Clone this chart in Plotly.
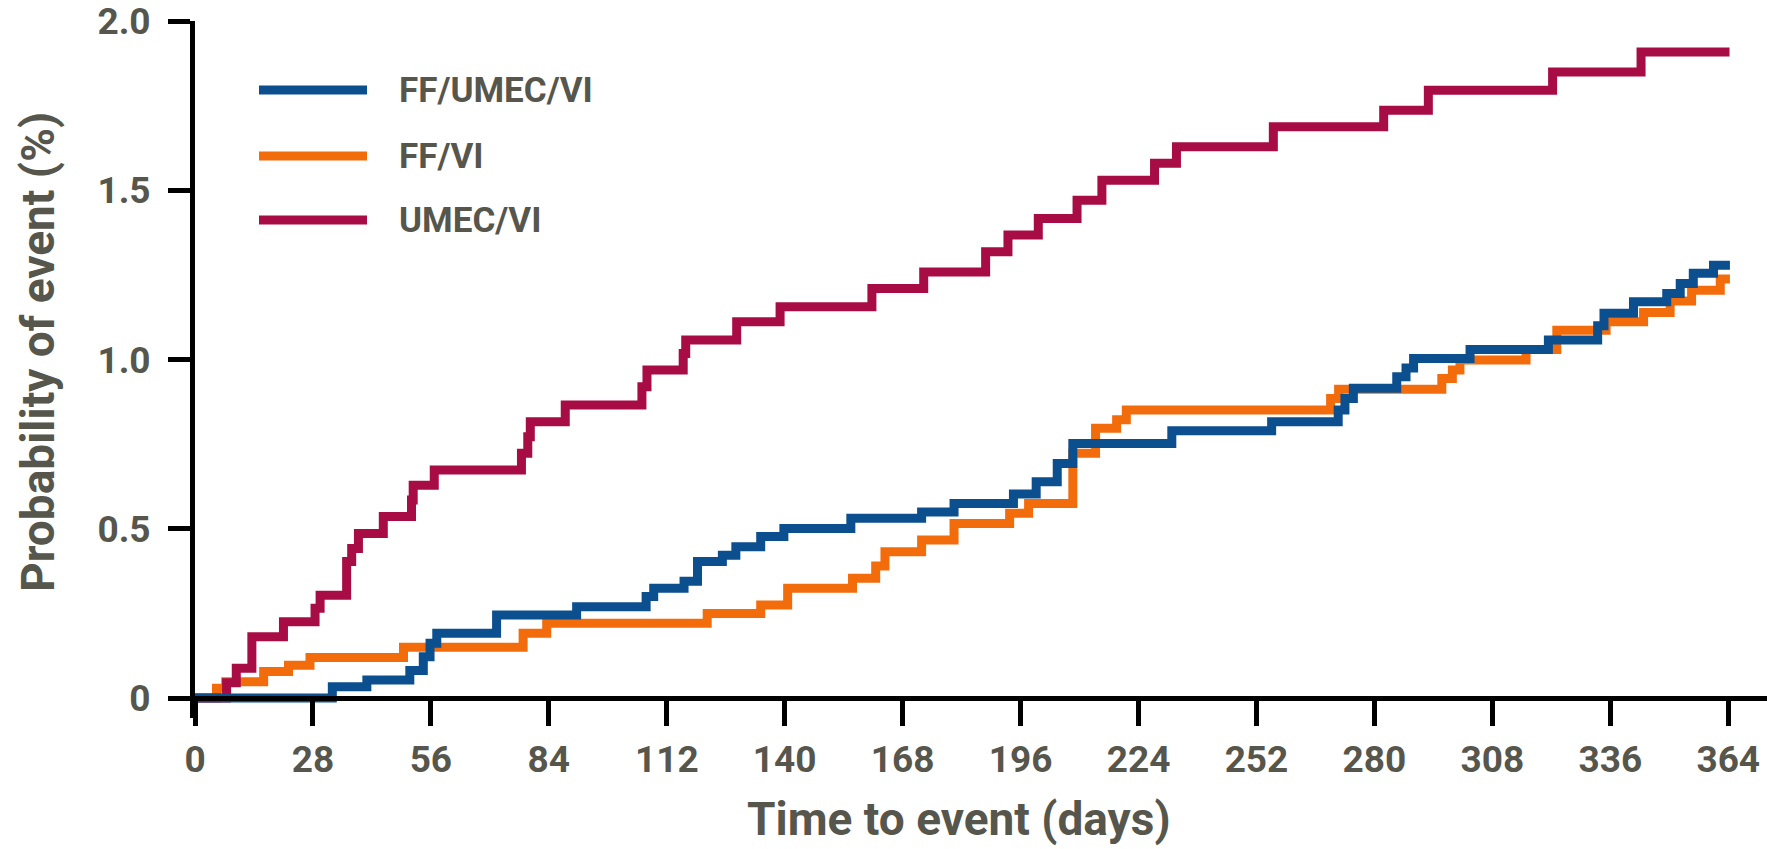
import plotly.graph_objects as go

# ---------------- data ----------------
series_names = ["FF/UMEC/VI", "FF/VI", "UMEC/VI"]
series_colors = ["#0b4f8f", "#f36c0c", "#a80c45"]

days_ff_umec_vi = [0, 32.6, 40.8, 51.0, 54.2, 55.8, 57.4, 71.6, 90.6, 107.1, 108.9,
                   116.1, 119.3, 125.2, 128.4, 134.3, 139.8, 155.7, 172.5, 180.2,
                   194.3, 199.7, 204.7, 208.4, 231.9, 255.6, 271.4, 273.0, 275.0,
                   285.3, 287.5, 289.3, 302.7, 321.3, 333.0, 334.5, 341.5, 349.4,
                   352.6, 355.7, 360.5, 364.4]
prob_ff_umec_vi = [0, 0.033, 0.053, 0.081, 0.122, 0.162, 0.191, 0.245, 0.270, 0.300, 0.324,
                   0.345, 0.403, 0.422, 0.447, 0.477, 0.501, 0.531, 0.550, 0.575,
                   0.603, 0.639, 0.693, 0.752, 0.790, 0.816, 0.851, 0.885, 0.915,
                   0.949, 0.975, 1.003, 1.030, 1.058, 1.100, 1.137, 1.171, 1.195,
                   1.225, 1.255, 1.279, 1.279]

days_ff_vi = [0, 5.1, 7.3, 16.3, 22.2, 27.3, 49.5, 77.9, 83.5, 121.6, 134.3, 140.7,
              156.1, 161.6, 163.8, 172.5, 180.2, 193.4, 197.9, 208.4, 213.8, 218.8,
              221.1, 269.6, 271.5, 296.0, 298.5, 300.3, 316.0, 323.3, 335.0, 343.9,
              350.2, 355.3, 362.1, 364.4]
prob_ff_vi = [0, 0.029, 0.048, 0.078, 0.097, 0.120, 0.150, 0.191, 0.221, 0.250, 0.275, 0.324,
              0.354, 0.390, 0.432, 0.467, 0.516, 0.546, 0.575, 0.723, 0.797, 0.822,
              0.851, 0.885, 0.912, 0.944, 0.969, 0.999, 1.030, 1.087, 1.112, 1.139,
              1.173, 1.205, 1.238, 1.238]

days_umec_vi = [0, 7.5, 9.8, 13.5, 21.0, 28.5, 29.7, 36.0, 37.2, 38.8, 44.7, 51.4, 51.8,
                56.8, 77.5, 79.0, 79.6, 87.9, 106.1, 107.3, 115.9, 116.5, 128.6, 138.9,
                160.7, 173.0, 187.7, 193.0, 200.2, 209.4, 215.3, 227.8, 233.0, 256.0,
                282.2, 292.8, 322.3, 343.3, 364.3]
prob_umec_vi = [0, 0.045, 0.088, 0.181, 0.225, 0.265, 0.304, 0.403, 0.442, 0.486, 0.536, 0.585, 0.629,
                0.674, 0.723, 0.772, 0.816, 0.866, 0.920, 0.969, 1.018, 1.058, 1.112, 1.156,
                1.210, 1.259, 1.319, 1.368, 1.417, 1.471, 1.530, 1.580, 1.629, 1.688,
                1.737, 1.796, 1.850, 1.909, 1.909]

x_tick_vals = [0, 28, 56, 84, 112, 140, 168, 196, 224, 252, 280, 308, 336, 364]
y_tick_vals = [0, 0.5, 1.0, 1.5, 2.0]
y_tick_text = ["0", "0.5", "1.0", "1.5", "2.0"]

x_title = "Time to event (days)"
y_title = "Probability of event (%)"

# ---------------- layout constants ----------------
FIG_W, FIG_H = 1767, 849
PLOT_LEFT, PLOT_TOP, PLOT_BOTTOM = 195, 21, 718      # page pixels
M_L, M_T, M_R = PLOT_LEFT, PLOT_TOP, 0
M_B = FIG_H - PLOT_BOTTOM
PLOT_W = FIG_W - M_L - M_R
PLOT_H = FIG_H - M_T - M_B
ZERO_Y = 698                                         # page pixel of y = 0
Y_MAX = 2.0
X_MAX = 373.2
d = (PLOT_BOTTOM - ZERO_Y) / PLOT_H
y_min = -Y_MAX * d / (1 - d)

FONT = "Roboto"
TXT = "#56564c"
LW = 9


def px_x(px):
    return (px - PLOT_LEFT) / PLOT_W


def px_y(py):
    return (PLOT_BOTTOM - py) / PLOT_H


fig = go.Figure()

draw_order = [1, 2, 0]   # FF/VI, UMEC/VI, FF/UMEC/VI on top
all_days = [days_ff_umec_vi, days_ff_vi, days_umec_vi]
all_prob = [prob_ff_umec_vi, prob_ff_vi, prob_umec_vi]
for i in draw_order:
    fig.add_trace(go.Scatter(
        x=all_days[i], y=all_prob[i], mode="lines", name=series_names[i],
        line=dict(shape="hv", width=LW, color=series_colors[i]),
        showlegend=False, hoverinfo="skip"))

# ---------------- manual legend (long line samples) ----------------
legend_y_px = [90, 156, 220]
for name, color, ypx in zip(series_names, series_colors, legend_y_px):
    yp = px_y(ypx)
    fig.add_shape(type="line", xref="paper", yref="paper",
                  x0=px_x(259), x1=px_x(367), y0=yp, y1=yp,
                  line=dict(color=color, width=LW))
    fig.add_annotation(xref="paper", yref="paper", x=px_x(397), y=yp,
                       xanchor="left", yanchor="middle", text=name, showarrow=False,
                       font=dict(family=FONT, size=35, color=TXT, weight=700))

# ---------------- axis titles ----------------
title_font = dict(family=FONT, size=46, color=TXT, weight=700)
fig.add_annotation(xref="paper", yref="paper", x=px_x(959), y=px_y(819),
                   xanchor="center", yanchor="middle", text=x_title,
                   showarrow=False, font=title_font)
fig.add_annotation(xref="paper", yref="paper", x=px_x(38), y=px_y(352),
                   xanchor="center", yanchor="middle", text=y_title, textangle=-90,
                   showarrow=False, font=title_font)

axis_common = dict(showgrid=False, zeroline=False, showline=True, linecolor="black",
                   linewidth=5, ticks="outside", tickwidth=5, tickcolor="black",
                   ticklabeloverflow="allow")

fig.update_layout(
    width=FIG_W, height=FIG_H,
    margin=dict(l=M_L, r=M_R, t=M_T, b=M_B, autoexpand=False),
    paper_bgcolor="white", plot_bgcolor="white",
    showlegend=False,
    font=dict(family=FONT, color=TXT),
    xaxis=dict(**axis_common, range=[0, X_MAX], tickvals=x_tick_vals, ticklen=25,
               anchor="free", position=d,
               tickfont=dict(family=FONT, size=37, color=TXT, weight=700),
               ticklabelstandoff=2),
    yaxis=dict(**axis_common, range=[y_min, Y_MAX + 0.0005], domain=[0, 1],
               tickvals=y_tick_vals, ticktext=y_tick_text, ticklen=22, anchor="x",
               tickfont=dict(family=FONT, size=37, color=TXT, weight=700),
               ticklabelstandoff=10),
)

# remove the default 8 px page margin so the figure fills the window exactly
fig.write_html("out.html",
               config={"displayModeBar": False},
               post_script="document.body.style.margin='0px';"
                           "document.body.style.overflow='hidden';")
